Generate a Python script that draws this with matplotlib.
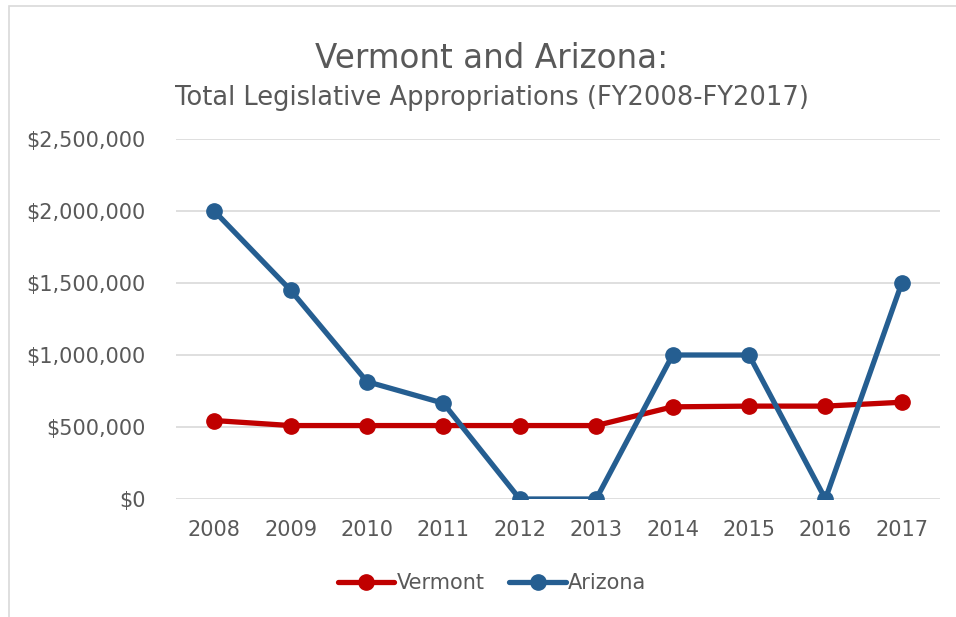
import matplotlib
matplotlib.use("Agg")
import matplotlib.pyplot as plt
from matplotlib.patches import Rectangle
from matplotlib.ticker import FuncFormatter

# data
years = ['2008', '2009', '2010', '2011', '2012', '2013', '2014', '2015', '2016', '2017']
vermont = [545000, 510000, 510000, 510000, 510000, 510000, 640000, 645000, 645000, 672000]
arizona = [2000000, 1450000, 815000, 665000, 0, 0, 1000000, 1000000, 0, 1500000]

text_col = '#595959'
red = '#C00000'
blue = '#255E91'

plt.rcParams['font.family'] = ['DejaVu Sans']

fig = plt.figure(figsize=(9.56, 6.17), dpi=100)
# chart border (only top/left visible in the crop)
fig.patches.append(Rectangle((9 / 956, -0.1), 1.2, 1 - 6 / 617 + 0.1, transform=fig.transFigure,
                             fill=False, edgecolor='#D9D9D9', linewidth=1.2))

ax = fig.add_axes([176 / 956, 1 - 499 / 617, (940 - 176) / 956, (499 - 139) / 617])

x = range(len(years))
ax.plot(x, vermont, color=red, lw=3.8, marker='o', ms=11, label='Vermont', solid_capstyle='round', zorder=3)
ax.plot(x, arizona, color=blue, lw=3.8, marker='o', ms=11, label='Arizona', solid_capstyle='round', zorder=3)

ax.set_xlim(-0.5, 9.5)
ax.set_ylim(0, 2500000)
ax.set_yticks([0, 500000, 1000000, 1500000, 2000000, 2500000])
ax.yaxis.set_major_formatter(FuncFormatter(lambda v, p: '${:,.0f}'.format(v)))
ax.set_xticks(list(x))
ax.set_xticklabels(years)
ax.grid(axis='y', color='#D9D9D9', lw=1.2, zorder=0)
for s in ax.spines.values():
    s.set_visible(False)
ax.tick_params(length=0, labelsize=15, colors=text_col)
ax.tick_params(axis='y', pad=22)
ax.tick_params(axis='x', pad=15)

fig.text(492 / 956, 1 - 58 / 617, 'Vermont and Arizona:', ha='center', va='center', fontsize=23.5, color=text_col)
fig.text(492 / 956, 1 - 98 / 617, 'Total Legislative Appropriations (FY2008-FY2017)', ha='center', va='center',
         fontsize=18.5, color=text_col)

leg = fig.legend(loc='center', bbox_to_anchor=(492 / 956, 1 - 583 / 617), ncol=2, frameon=False,
                 fontsize=15, handlelength=2.7, handletextpad=0.1, columnspacing=1.2, labelcolor=text_col)

fig.savefig('out.png', dpi=100)
